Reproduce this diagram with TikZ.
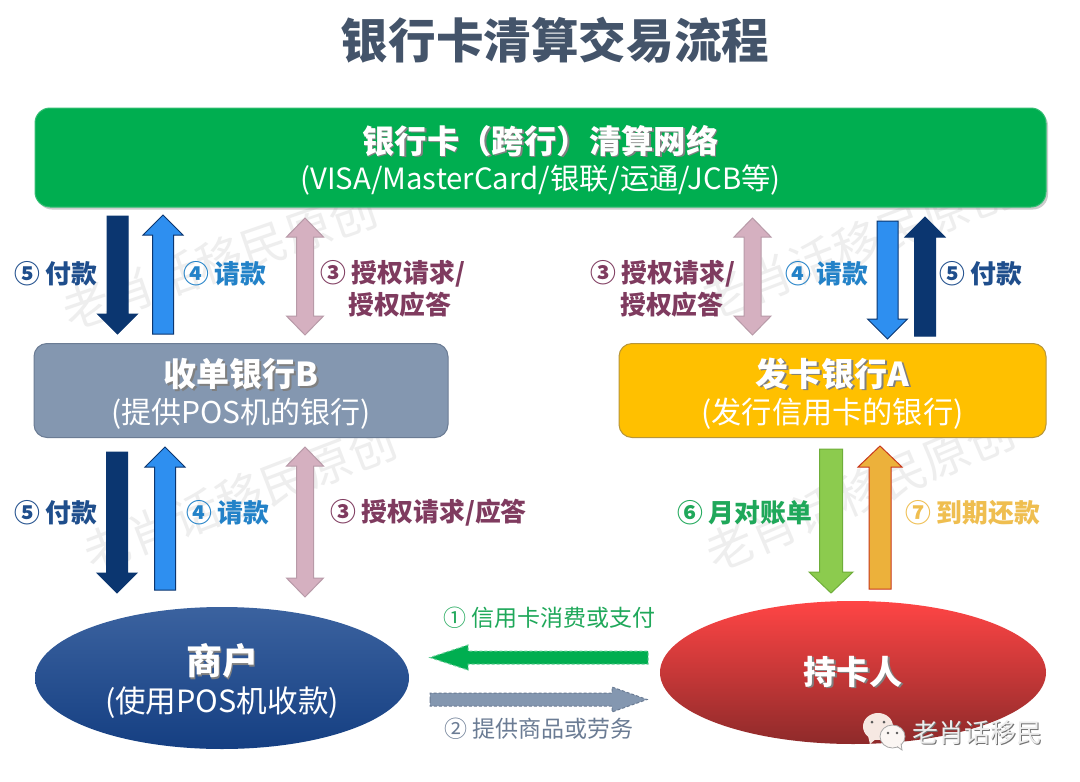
\documentclass[tikz,border=0pt]{standalone}
\usepackage{fontspec}
\setmainfont{Noto Sans CJK SC}
\usetikzlibrary{calc,shapes.geometric,shadows}
\definecolor{titlec}{HTML}{44546A}
\definecolor{netgreen}{HTML}{00AE50}
\definecolor{navy}{HTML}{0B3670}
\definecolor{navylabel}{HTML}{1F4E8C}
\definecolor{bluefill}{HTML}{2E8FF0}
\definecolor{bluelabel}{HTML}{2382C8}
\definecolor{pinkfill}{HTML}{D5B0C0}
\definecolor{pinkedge}{HTML}{B89AA8}
\definecolor{plum}{HTML}{7F3B5F}
\definecolor{grayfill}{HTML}{8497B0}
\definecolor{grayedge}{HTML}{6B7C94}
\definecolor{amber}{HTML}{FFC000}
\definecolor{amberedge}{HTML}{B8963A}
\definecolor{leaf}{HTML}{8CCB4E}
\definecolor{leafedge}{HTML}{6FAE3A}
\definecolor{orangefill}{HTML}{ECB13B}
\definecolor{orangeedge}{HTML}{C8381B}
\definecolor{greenlabel}{HTML}{1FA85A}
\definecolor{yellowlabel}{HTML}{EFBE50}
\definecolor{wmark}{HTML}{EEEEEE}
\definecolor{navytop}{HTML}{3B629F}
\definecolor{navymid}{HTML}{114C9C}
\definecolor{navybot}{HTML}{153F82}
\definecolor{redtop}{HTML}{FF4545}
\definecolor{redmid}{HTML}{E83B3B}
\definecolor{redbot}{HTML}{8E2A2A}
\definecolor{bubble}{HTML}{F6E8E2}
\newcommand{\stxt}[1]{\leavevmode\rlap{\raisebox{-1.6pt}{\hspace{1.6pt}\textcolor{black!50}{#1}}}#1}
\newcommand{\brandtxt}[1]{\leavevmode\rlap{\raisebox{-.8pt}{\hspace{.8pt}\textcolor{black!55}{#1}}}\textcolor{white!93!black}{#1}}
\newcommand{\fs}[2]{\fontsize{#1}{#2}\selectfont}
\tikzset{
  bshaft/.store in=\bshaft, bhead/.store in=\bhead, blen/.store in=\blen,
  blockarrow/.style={line width=1pt, line join=miter, to path={
    -- ($(\tikztostart)!\bshaft!90:(\tikztotarget)$)
    -- ($($(\tikztotarget)!\blen!(\tikztostart)$)!\bshaft!90:(\tikztotarget)$)
    -- ($($(\tikztotarget)!\blen!(\tikztostart)$)!\bhead!90:(\tikztotarget)$)
    -- (\tikztotarget)
    -- ($($(\tikztotarget)!\blen!(\tikztostart)$)!\bhead!-90:(\tikztotarget)$)
    -- ($($(\tikztotarget)!\blen!(\tikztostart)$)!\bshaft!-90:(\tikztotarget)$)
    -- ($(\tikztostart)!\bshaft!-90:(\tikztotarget)$)
    -- cycle}},
  twowayarrow/.style={line width=1pt, line join=miter, to path={
    -- ($($(\tikztostart)!\blen!(\tikztotarget)$)!\bhead!90:(\tikztotarget)$)
    -- ($($(\tikztostart)!\blen!(\tikztotarget)$)!\bshaft!90:(\tikztotarget)$)
    -- ($($(\tikztotarget)!\blen!(\tikztostart)$)!\bshaft!90:(\tikztotarget)$)
    -- ($($(\tikztotarget)!\blen!(\tikztostart)$)!\bhead!90:(\tikztotarget)$)
    -- (\tikztotarget)
    -- ($($(\tikztotarget)!\blen!(\tikztostart)$)!\bhead!-90:(\tikztotarget)$)
    -- ($($(\tikztotarget)!\blen!(\tikztostart)$)!\bshaft!-90:(\tikztotarget)$)
    -- ($($(\tikztostart)!\blen!(\tikztotarget)$)!\bshaft!-90:(\tikztotarget)$)
    -- ($($(\tikztostart)!\blen!(\tikztotarget)$)!\bhead!-90:(\tikztotarget)$)
    -- cycle}},
  vert/.style={bshaft=10.5pt, bhead=20pt, blen=20pt},
  navyarrow/.style={blockarrow, vert, fill=navy, draw=navy},
  bluearrow/.style={blockarrow, vert, fill=bluefill, draw=navy},
  pinkarrow/.style={twowayarrow, bshaft=8.5pt, bhead=18.5pt, blen=19pt, fill=pinkfill, draw=pinkedge},
  leafarrow/.style={blockarrow, bshaft=11.5pt, bhead=22pt, blen=21pt, fill=leaf, draw=leafedge},
  orangearrow/.style={blockarrow, bshaft=11pt, bhead=22pt, blen=21pt, fill=orangefill, draw=orangeedge},
  flowgreen/.style={blockarrow, bshaft=6.5pt, bhead=12.5pt, blen=38pt, fill=netgreen, draw=netgreen!60, densely dashed},
  flowgray/.style={blockarrow, bshaft=6.5pt, bhead=12.5pt, blen=35pt, fill=grayfill, draw=grayedge, densely dashed},
  lbl/.style={anchor=west, inner sep=0pt, font=\fs{25.8}{31}\bfseries},
  plumlbl/.style={anchor=west, inner sep=0pt, font=\fs{25.8}{31}\bfseries, align=left, text=plum},
  flowlbl/.style={anchor=west, inner sep=0pt, font=\fs{23}{28}},
  wm/.style={inner sep=0pt, font=\fs{47}{50}, text=wmark},
  bankbox/.style={rounded corners=13pt, minimum width=414pt, minimum height=94pt, text=white, align=center, inner sep=0pt, line width=1pt},
  party/.style={ellipse, inner sep=0pt, text=white, align=center}
}
\begin{document}
\begin{tikzpicture}[x=1pt,y=-1pt]
\useasboundingbox (0,0) rectangle (1080,782);
\fill[white] (0,0) rectangle (1080,782);

% watermarks
\node[wm, rotate=19] (wm1) at (220,260) {老肖话移民原创};
\node[wm, rotate=21] (wm2) at (240,497) {老肖话移民原创};
\node[wm, rotate=21] (wm3) at (857,245) {老肖话移民原创};
\node[wm, rotate=23] (wm4) at (860,492) {老肖话移民原创};

% title
\node[inner sep=0pt, text=titlec, font=\fs{47.6}{50}\bfseries] (title) at (555,40) {银行卡清算交易流程};

% clearing network
\node[rounded corners=15pt, minimum width=1011pt, minimum height=99pt, fill=netgreen, draw=netgreen!80!white, line width=1pt, drop shadow={shadow xshift=2pt, shadow yshift=-2.5pt, opacity=.4},
      text=white, align=center, inner sep=0pt] (net) at (540.5,157.5)
  {\rule{0pt}{34pt}\fs{32.4}{36}\bfseries\stxt{银行卡（跨行）清算网络}\\[6pt]\fs{29.3}{36}\selectfont\mdseries (VISA/MasterCard/银联/运通/JCB等)};

% banks
\node[bankbox, fill=grayfill, draw=grayedge] (acq) at (241,390.5)
  {\rule{0pt}{35pt}\fs{33}{39}\bfseries\stxt{收单银行B}\\[6pt]\fs{30}{39}\selectfont\mdseries (提供POS机的银行)};
\node[bankbox, minimum width=427pt, fill=amber, draw=amberedge] (iss) at (832.5,390.5)
  {\rule{0pt}{35pt}\fs{33}{39}\bfseries\stxt{发卡银行A}\\[6pt]\fs{30.2}{39}\selectfont\mdseries (发行信用卡的银行)};

% parties
\node[party, minimum width=374pt, minimum height=142pt, top color=navytop, middle color=navymid, bottom color=navybot] (mer) at (222,678)
  {\rule{0pt}{37pt}\fs{36}{40}\bfseries\stxt{商户}\\[5pt]\fs{30.6}{40}\selectfont\mdseries (使用POS机收款)};
\node[party, minimum width=386pt, minimum height=143pt, top color=redtop, middle color=redmid, bottom color=redbot] (card) at (853,672.5)
  {\fs{33}{40}\bfseries\stxt{持卡人}};

% connector end points
\foreach \n/\x/\y in {
  a1s/117.5/216, a1t/117.5/334,
  a2s/163/334,   a2t/163/215,
  a3s/305/218,   a3t/305/335,
  b1s/117/452,   b1t/117/593,
  b2s/165/590,   b2t/165/447,
  b3s/305/447,   b3t/305/597,
  c3s/752.5/218, c3t/752.5/335,
  c4s/887.5/221, c4t/887.5/339,
  c5s/925/336,   c5t/925/217,
  d6s/831/449,   d6t/831/593,
  d7s/880/589,   d7t/880/446,
  e1s/648/657.5, e1t/430/657.5,
  e2s/430/699.5, e2t/647/699.5}
  {\coordinate (\n) at (\x,\y);}

\draw[navyarrow]   (a1s) to (a1t);
\draw[bluearrow]   (a2s) to (a2t);
\draw[pinkarrow]   (a3s) to (a3t);
\draw[navyarrow]   (b1s) to (b1t);
\draw[bluearrow]   (b2s) to (b2t);
\draw[pinkarrow]   (b3s) to (b3t);
\draw[pinkarrow]   (c3s) to (c3t);
\draw[bluearrow]   (c4s) to (c4t);
\draw[navyarrow]   (c5s) to (c5t);
\draw[leafarrow]   (d6s) to (d6t);
\draw[orangearrow] (d7s) to (d7t);
\draw[flowgreen]   (e1s) to (e1t);
\draw[flowgray]    (e2s) to (e2t);

% labels, upper left
\node[lbl, text=navylabel] (l1) at (14,274) {⑤ 付款};
\node[lbl, text=bluelabel] (l2) at (183,274) {④ 请款};
\node[plumlbl] (l3) at (320,274) {③ 授权请求/};
\node[plumlbl] (l3b) at (348,305) {授权应答};
% labels, upper right
\node[plumlbl] (r3) at (590,274) {③ 授权请求/};
\node[plumlbl] (r3b) at (620,305) {授权应答};
\node[lbl, text=bluelabel] (r4) at (785,274) {④ 请款};
\node[lbl, text=navylabel] (r5) at (939,274) {⑤ 付款};
% labels, lower
\node[lbl, text=navylabel] (m5) at (14,513) {⑤ 付款};
\node[lbl, text=bluelabel] (m4) at (186,513) {④ 请款};
\node[plumlbl] (m3) at (330,513) {③ 授权请求/应答};
\node[lbl, text=greenlabel] (m6) at (677,513) {⑥ 月对账单};
\node[lbl, text=yellowlabel] (m7) at (905,513) {⑦ 到期还款};
\node[flowlbl, text=greenlabel] (f1) at (443,618) {① 信用卡消费或支付};
\node[flowlbl, text=grayedge] (f2) at (444,729) {② 提供商品或劳务};

% WeChat badge
\fill[bubble] (878,726.5) ellipse[x radius=15pt, y radius=13.5pt];
\fill[bubble] (868,736) -- (870,744) -- (877,738) -- cycle;
\filldraw[fill=white!60!bubble, draw=gray!70, line width=.8pt] (892.5,736.5) ellipse[x radius=12.5pt, y radius=11.5pt];
\filldraw[fill=white!60!bubble, draw=gray!70, line width=.8pt] (897,746.5) -- (902,750) -- (901,743.5);
\foreach \x/\y/\r in {872/722/1.5, 884/722/1.5, 888/733/1.4, 897/733/1.4} \fill[black!65] (\x,\y) circle[radius=\r pt];
\node[anchor=west, inner sep=0pt, font=\fs{26}{30}] (brand) at (912,733) {\brandtxt{老肖话移民}};
\end{tikzpicture}
\end{document}
